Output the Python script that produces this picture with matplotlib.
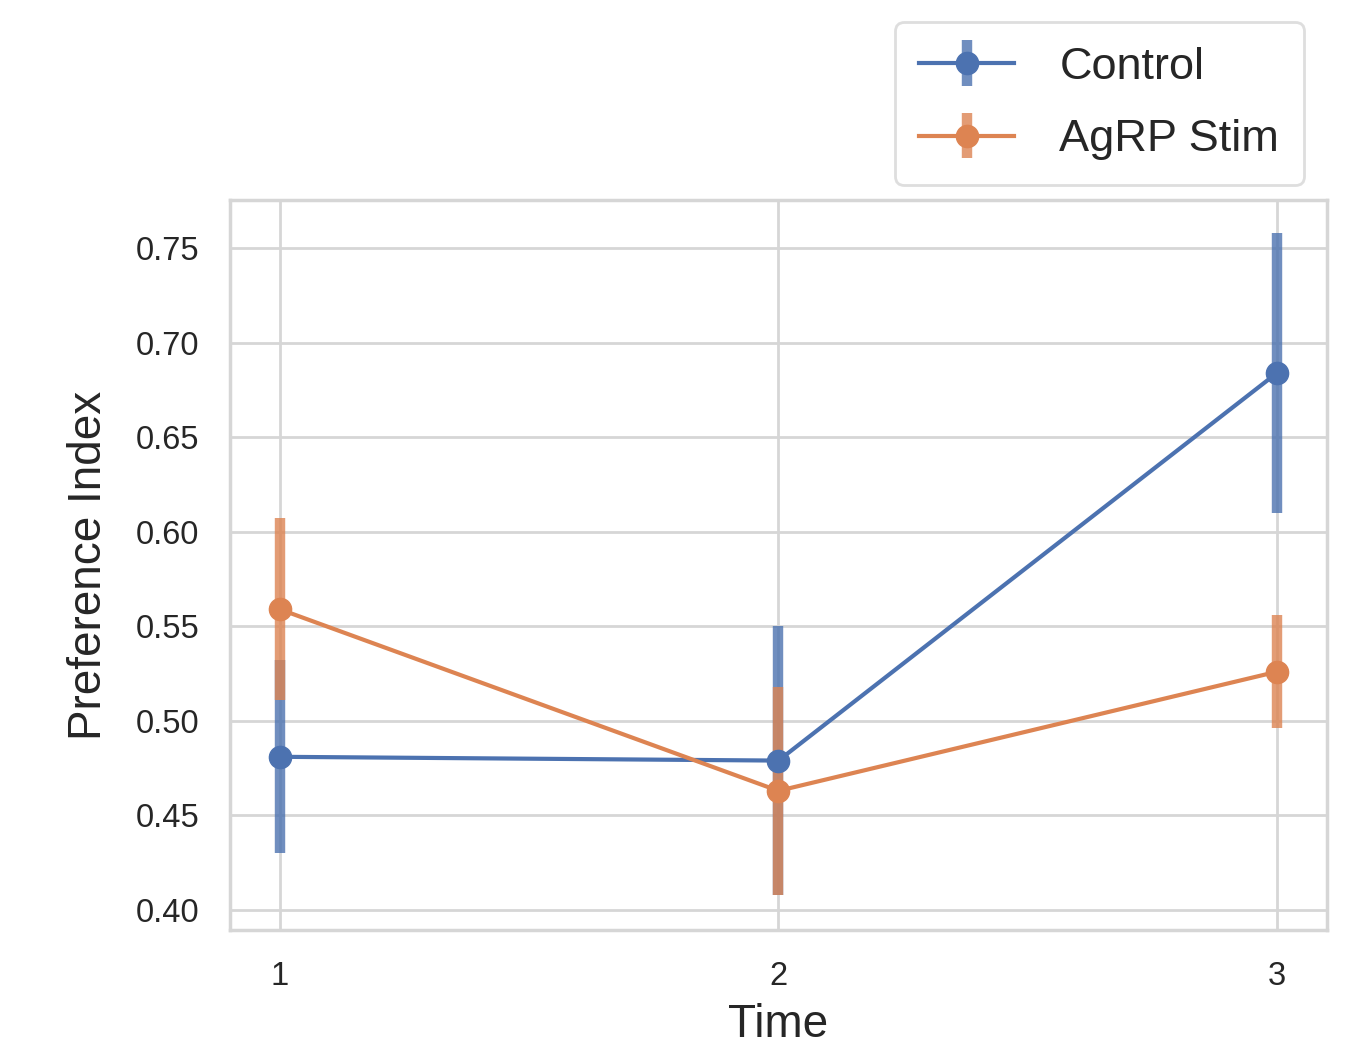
import matplotlib
matplotlib.use("Agg")
import matplotlib.pyplot as plt

# data
time = [1, 2, 3]
control_mean = [0.481, 0.479, 0.684]
control_err = [0.051, 0.071, 0.074]
agrp_mean = [0.559, 0.463, 0.526]
agrp_err = [0.048, 0.055, 0.030]

plt.rcParams['font.family'] = ['Liberation Sans', 'DejaVu Sans']

fig = plt.figure(figsize=(13.55, 10.47), dpi=100)
ax = fig.add_axes([0.1697, 0.1117, 0.8096, 0.6973])

series = [
    ("Control", control_mean, control_err, "#4C72B0"),
    ("AgRP Stim", agrp_mean, agrp_err, "#DD8452"),
]
for label, m, e, c in series:
    line, caps, bars = ax.errorbar(time, m, yerr=e, color=c, marker='o',
                                   markersize=16, linewidth=3, elinewidth=7.5,
                                   capsize=0, label=label)
    for b in bars:
        b.set_alpha(0.8)

ax.set_xlim(0.9, 3.1)
ax.set_ylim(0.3894, 0.7754)
ax.set_xticks(time)
ax.set_yticks([0.40, 0.45, 0.50, 0.55, 0.60, 0.65, 0.70, 0.75])
ax.set_yticklabels(["0.40", "0.45", "0.50", "0.55", "0.60", "0.65", "0.70", "0.75"])
ax.tick_params(labelsize=23.5, colors="#262626", length=0, pad=22)

ax.grid(True, color="#d6d6d6", linewidth=2)
ax.set_axisbelow(True)
for s in ax.spines.values():
    s.set_color("#d6d6d6")
    s.set_linewidth(2.5)

ax.set_xlabel("Time", fontsize=33, color="#262626", labelpad=8)
ax.set_ylabel("Preference Index", fontsize=33, color="#262626", labelpad=18)

leg = fig.legend(loc="upper right", bbox_to_anchor=(0.9624, 0.979),
                 borderaxespad=0, fontsize=32.5, frameon=True,
                 handlelength=2.1, handletextpad=1.0,
                 borderpad=0.55, labelspacing=0.7)
leg.get_frame().set_edgecolor("#d6d6d6")
leg.get_frame().set_linewidth(2)
for t in leg.get_texts():
    t.set_color("#262626")

fig.savefig("out.png", dpi=100)
